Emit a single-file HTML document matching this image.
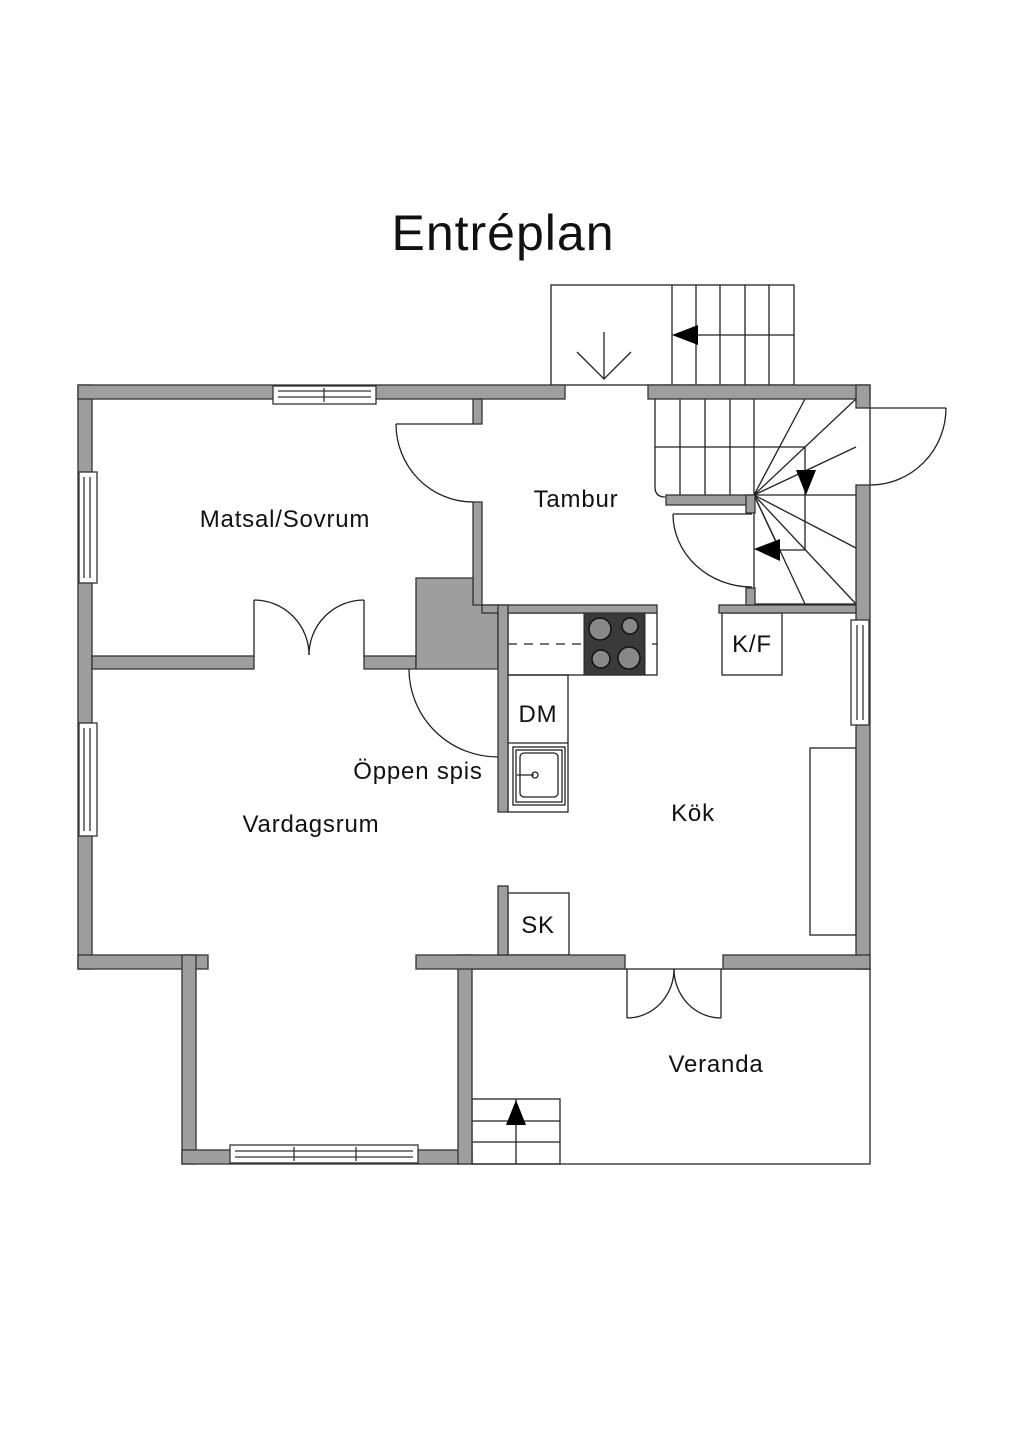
<!DOCTYPE html>
<html><head><meta charset="utf-8"><style>
html,body{margin:0;padding:0;background:#fff}
svg{display:block}
text{font-family:"Liberation Sans",sans-serif;fill:#111}
</style></head><body>
<svg width="1024" height="1448" viewBox="0 0 1024 1448" xmlns="http://www.w3.org/2000/svg">
<text x="503" y="250" font-size="50" text-anchor="middle" letter-spacing="1">Entréplan</text>

<g fill="none" stroke="#222" stroke-width="1.3">
  <rect x="551" y="285" width="243" height="100"/>
  <line x1="672" y1="285" x2="672" y2="385"/><line x1="696" y1="285" x2="696" y2="385"/>
  <line x1="720" y1="285" x2="720" y2="385"/><line x1="745" y1="285" x2="745" y2="385"/>
  <line x1="769" y1="285" x2="769" y2="385"/>
  <line x1="696" y1="335" x2="794" y2="335"/>
  <line x1="604" y1="332" x2="604" y2="379"/>
  <polyline points="577,352 604,379 631,352"/>
  <line x1="655" y1="399" x2="655" y2="487"/>
  <path d="M655,487 Q655,497 665,497"/>
  <line x1="680" y1="399" x2="680" y2="497"/><line x1="705" y1="399" x2="705" y2="497"/>
  <line x1="730" y1="399" x2="730" y2="497"/><line x1="754" y1="399" x2="754" y2="605"/>
  <line x1="655" y1="447" x2="805" y2="447"/>
  <line x1="805" y1="447" x2="805" y2="550"/><line x1="780" y1="550" x2="805" y2="550"/>
  <line x1="754" y1="604" x2="856" y2="604"/>
  <line x1="754" y1="495" x2="805" y2="399"/><line x1="754" y1="495" x2="856" y2="399"/>
  <line x1="754" y1="495" x2="856" y2="447"/><line x1="754" y1="495" x2="856" y2="495"/>
  <line x1="754" y1="495" x2="856" y2="548"/><line x1="754" y1="495" x2="856" y2="604"/>
  <line x1="754" y1="495" x2="805" y2="604"/><line x1="754" y1="495" x2="780" y2="550"/>
  <line x1="673" y1="514" x2="752" y2="514"/><path d="M673,514 A79,73 0 0 0 752,587"/>
  <line x1="870" y1="408" x2="946" y2="408"/><path d="M946,408 A76,77 0 0 1 870,485"/>
  <line x1="870" y1="408" x2="870" y2="485"/>
  <line x1="396" y1="424" x2="473" y2="424"/><path d="M396,424 A77,78 0 0 0 473,502"/>
  <line x1="254" y1="600" x2="254" y2="657"/><line x1="364" y1="600" x2="364" y2="657"/>
  <path d="M254,600 A55,55 0 0 1 309,655"/><path d="M364,600 A55,55 0 0 0 309,655"/>
  <path d="M409,669 A89,88 0 0 0 498,757"/>
  <rect x="508" y="613" width="149" height="62"/>
  <line x1="508" y1="644" x2="657" y2="644" stroke-dasharray="9,7"/>
  <rect x="508" y="675" width="60" height="137"/>
  <line x1="508" y1="743" x2="568" y2="743"/>
  <rect x="513" y="747" width="52" height="58"/><rect x="516" y="750" width="46" height="52"/>
  <rect x="520" y="753" width="38" height="44" rx="4"/>
  <line x1="517" y1="775" x2="534" y2="775"/><circle cx="535" cy="775" r="3"/>
  <rect x="722" y="613" width="60" height="62"/>
  <rect x="810" y="748" width="46" height="187"/>
  <rect x="508" y="893" width="61" height="62"/>
  <polyline points="472,969 870,969 870,1164 472,1164"/>
  <line x1="627" y1="969" x2="627" y2="1018"/><line x1="721" y1="969" x2="721" y2="1018"/>
  <path d="M627,1018 A47,49 0 0 0 674,969"/><path d="M721,1018 A47,49 0 0 1 674,969"/>
  <rect x="472" y="1099" width="88" height="65"/>
  <line x1="472" y1="1121" x2="560" y2="1121"/><line x1="472" y1="1142" x2="560" y2="1142"/>
  <line x1="516" y1="1099" x2="516" y2="1164"/>
</g>
<rect x="584" y="613" width="61" height="62" fill="#3a3a3a" stroke="#222"/>
<g fill="#888" stroke="#111" stroke-width="1.5">
  <circle cx="600" cy="629" r="11"/><circle cx="630" cy="626" r="8"/>
  <circle cx="601" cy="659" r="9"/><circle cx="629" cy="658" r="11"/>
</g>
<g fill="#000">
  <polygon points="672,335 698,325 698,345"/>
  <polygon points="796,470 816,470 806,495"/>
  <polygon points="754,549 780,539 780,561"/>
  <polygon points="516,1100 506,1125 526,1125"/>
</g>

<g fill="#9e9e9e" stroke="#333" stroke-width="1.3">
  <rect x="78" y="385" width="14" height="584"/>
  <rect x="78" y="385" width="487" height="14"/>
  <rect x="648" y="385" width="222" height="14"/>
  <rect x="856" y="385" width="14" height="23"/>
  <rect x="856" y="485" width="14" height="484"/>
  <rect x="78" y="955" width="130" height="14"/>
  <rect x="182" y="955" width="14" height="209"/>
  <rect x="182" y="1150" width="290" height="14"/>
  <rect x="458" y="955" width="14" height="209"/>
  <rect x="416" y="955" width="209" height="14"/>
  <rect x="723" y="955" width="147" height="14"/>
  <rect x="473" y="399" width="9" height="25"/>
  <rect x="473" y="502" width="9" height="111"/>
  <rect x="92" y="656" width="162" height="13"/>
  <rect x="364" y="656" width="52" height="13"/>
  <polygon points="416,578 473,578 473,605 498,605 498,669 416,669"/>
  <rect x="482" y="605" width="175" height="8"/>
  <rect x="498" y="605" width="10" height="207"/>
  <rect x="498" y="886" width="10" height="69"/>
  <rect x="719" y="605" width="137" height="8"/>
  <rect x="666" y="495" width="86" height="10"/>
  <rect x="746" y="495" width="9" height="18"/>
  <rect x="746" y="588" width="9" height="17"/>
</g>
<g fill="#fff" stroke="#333" stroke-width="1.3">
  <rect x="273" y="386" width="103" height="18"/>
  <line x1="278" y1="391" x2="371" y2="391"/><line x1="278" y1="397" x2="371" y2="397"/><line x1="324" y1="388" x2="324" y2="402"/>
  <rect x="79" y="472" width="18" height="111"/>
  <line x1="84" y1="477" x2="84" y2="578"/><line x1="90" y1="477" x2="90" y2="578"/>
  <rect x="79" y="723" width="18" height="113"/>
  <line x1="84" y1="728" x2="84" y2="831"/><line x1="90" y1="728" x2="90" y2="831"/>
  <rect x="851" y="620" width="18" height="105"/>
  <line x1="857" y1="625" x2="857" y2="720"/><line x1="863" y1="625" x2="863" y2="720"/>
  <rect x="230" y="1145" width="188" height="18"/>
  <line x1="235" y1="1151" x2="413" y2="1151"/><line x1="235" y1="1157" x2="413" y2="1157"/>
  <line x1="294" y1="1147" x2="294" y2="1161"/><line x1="356" y1="1147" x2="356" y2="1161"/>
</g>

<g font-size="24" letter-spacing="0.8">
  <text x="285" y="527" text-anchor="middle">Matsal/Sovrum</text>
  <text x="576" y="507" text-anchor="middle">Tambur</text>
  <text x="752" y="652" text-anchor="middle">K/F</text>
  <text x="538" y="722" text-anchor="middle">DM</text>
  <text x="418" y="779" text-anchor="middle">Öppen spis</text>
  <text x="311" y="832" text-anchor="middle">Vardagsrum</text>
  <text x="693" y="821" text-anchor="middle">Kök</text>
  <text x="538" y="933" text-anchor="middle">SK</text>
  <text x="716" y="1072" text-anchor="middle">Veranda</text>
</g>
</svg>
</body></html>
